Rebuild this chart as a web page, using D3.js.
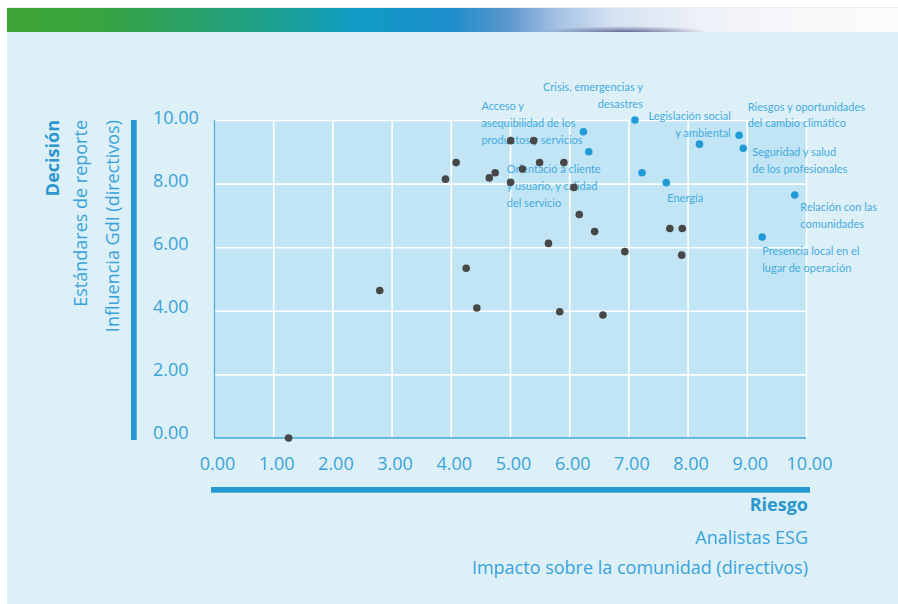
<!DOCTYPE html>
<html>
<head>
<meta charset="utf-8">
<script src="https://cdn.jsdelivr.net/npm/d3@7"></script>
<style>
  html, body { margin: 0; padding: 0; background: #ffffff; }
  svg { display: block; }
  text { font-family: "Open Sans", "Noto Sans", sans-serif; }
</style>
</head>
<body>
<svg id="chart" width="898" height="604"></svg>
<script>
// Materiality matrix: risk (x) vs decision (y)
const xTicks = [0, 1, 2, 3, 4, 5, 6, 7, 8, 9, 10];
const yTicks = [0, 2, 4, 6, 8, 10];

// Topics without a caption (grey dots)
const greyX = [1.26, 2.80, 3.91, 4.09, 4.26, 4.44, 4.65, 4.75, 5.01, 5.01, 5.21, 5.40,
               5.50, 5.65, 5.84, 5.91, 6.08, 6.17, 6.43, 6.57, 6.94, 7.70, 7.91, 7.90];
const greyY = [0.00, 4.64, 8.14, 8.66, 5.34, 4.09, 8.18, 8.34, 9.35, 8.04, 8.46, 9.35,
               8.66, 6.12, 3.97, 8.66, 7.88, 7.03, 6.49, 3.87, 5.86, 6.59, 6.59, 5.75];

// Material topics (blue dots)
const topicNames = [
  "Acceso y asequibilidad de los productos y servicios",
  "Orientació a cliente y usuario, y calidad del servicio",
  "Crisis, emergencias y desastres",
  "",
  "Energía",
  "Legislación social y ambiental",
  "Riesgos y oportunidades del cambio climático",
  "Seguridad y salud de los profesionales",
  "Relación con las comunidades",
  "Presencia local en el lugar de operación"
];
const topicX = [6.24, 6.33, 7.11, 7.23, 7.64, 8.20, 8.87, 8.94, 9.81, 9.26];
const topicY = [9.63, 9.00, 10.00, 8.34, 8.03, 9.24, 9.52, 9.11, 7.64, 6.32];

// Caption lines for each topic
const captionLines = [
  ["Acceso y", "asequibilidad de los", "productos y servicios"],
  ["Orientació a cliente", "y usuario, y calidad", "del servicio"],
  ["Crisis, emergencias y", "desastres"],
  [],
  ["Energía"],
  ["Legislación social", "y ambiental"],
  ["Riesgos y oportunidades", "del cambio climático"],
  ["Seguridad y salud", "de los profesionales"],
  ["Relación con las", "comunidades"],
  ["Presencia local en el", "lugar de operación"]
];

const yTitle = ["Decisión", "Estándares de reporte", "Influencia GdI (directivos)"];
const xTitle = ["Riesgo", "Analistas ESG", "Impacto sobre la comunidad (directivos)"];

// ---- layout ----
const W = 898, H = 604;
const plot = { left: 214, right: 806, top: 120, bottom: 438 };
// caption placement relative to its dot: [dx, dy, anchor]
const captionPlacement = [
  [-102, -21.5, "start"],
  [-82, 21.5, "start"],
  [8, -29.2, "end"],
  [0, 0, "start"],
  [1, 19.6, "start"],
  [31.3, -24.1, "end"],
  [8.7, -24.6, "start"],
  [9, 7.7, "start"],
  [5.6, 15.8, "start"],
  [0, 18.2, "start"]
];
const captionLineHeight = 16.8;

const C = {
  panel: "#ddf0f8",
  plotBg: "#c1e5f4",
  grid: "#ffffff",
  axisBar: "#2499d2",
  tick: "#38a3da",
  caption: "#45abdf",
  title: "#2a97d0",
  grey: "#474747",
  blue: "#1f9bd8"
};

const svg = d3.select("#chart");
const defs = svg.append("defs");

// banner gradient
const bg = defs.append("linearGradient").attr("id", "banner").attr("x1", 0).attr("x2", 1);
[[0, "#3ea535"], [0.1, "#38a43e"], [0.22, "#26a06c"], [0.33, "#18a09e"], [0.39, "#0f9bc5"],
 [0.5, "#1e8fcc"], [0.56, "#5a96cc"], [0.62, "#a6c3e4"], [0.68, "#d4e2f2"], [0.78, "#eef1f8"],
 [0.9, "#f9f9fb"], [1, "#fbfbfb"]]
  .forEach(([o, c]) => bg.append("stop").attr("offset", o).attr("stop-color", c));

const smudge = defs.append("radialGradient").attr("id", "smudge");
smudge.append("stop").attr("offset", 0).attr("stop-color", "#3b3c72").attr("stop-opacity", 0.75);
smudge.append("stop").attr("offset", 1).attr("stop-color", "#3b3c72").attr("stop-opacity", 0);

svg.append("rect").attr("width", W).attr("height", H).attr("fill", "#ffffff");
svg.append("line").attr("x1", 7).attr("x2", W).attr("y1", 7.5).attr("y2", 7.5)
  .attr("stroke", "#ececec").attr("stroke-width", 1);
svg.append("rect").attr("x", 7).attr("y", 8).attr("width", W - 7).attr("height", 24).attr("fill", "url(#banner)");
svg.append("ellipse").attr("cx", 625).attr("cy", 32).attr("rx", 85).attr("ry", 6).attr("fill", "url(#smudge)");
svg.append("rect").attr("x", 7).attr("y", 32).attr("width", W - 7).attr("height", H - 32).attr("fill", C.panel);
svg.append("line").attr("x1", 874.5).attr("x2", 874.5).attr("y1", 32).attr("y2", H)
  .attr("stroke", "#d6ebf5").attr("stroke-width", 1);

// scales
const x = d3.scaleLinear().domain([0, 10]).range([plot.left, plot.right]);
const y = d3.scaleLinear().domain([0, 10]).range([plot.bottom, plot.top]);
// tick labels on the value axis sit on a slightly tighter scale
const yLabelScale = d3.scaleLinear().domain([0, 10]).range([431.7, 117.3]);

// plot background and grid
svg.append("rect").attr("x", plot.left).attr("y", plot.top)
  .attr("width", plot.right - plot.left).attr("height", plot.bottom - plot.top)
  .attr("fill", C.plotBg);

const gridX = svg.append("g").attr("transform", `translate(0,${plot.bottom})`)
  .call(d3.axisBottom(x).tickValues(xTicks.slice(1)).tickSize(-(plot.bottom - plot.top)).tickFormat(""));
const gridY = svg.append("g").attr("transform", `translate(${plot.left},0)`)
  .call(d3.axisLeft(y).tickValues(yTicks.slice(1)).tickSize(-(plot.right - plot.left)).tickFormat(""));
[gridX, gridY].forEach(g => {
  g.select(".domain").remove();
  g.selectAll(".tick line").attr("stroke", C.grid).attr("stroke-width", 1.6);
});

// thin plot axis lines
svg.append("line").attr("x1", plot.left + 0.5).attr("x2", plot.left + 0.5)
  .attr("y1", plot.top).attr("y2", plot.bottom).attr("stroke", "#4fb0e0").attr("stroke-width", 1.2);
svg.append("line").attr("x1", plot.left).attr("x2", plot.right)
  .attr("y1", plot.bottom).attr("y2", plot.bottom).attr("stroke", "#3fa8de").attr("stroke-width", 1.4);

// y tick labels
const yLab = svg.append("g").attr("transform", "translate(153,0)")
  .call(d3.axisLeft(yLabelScale).tickValues(yTicks).tickSize(0).tickPadding(0).tickFormat(d => d.toFixed(2)));
yLab.select(".domain").remove();
yLab.selectAll("text").attr("x", 0).attr("text-anchor", "start").attr("dy", "0.36em")
  .style("font-family", '"Open Sans", sans-serif').style("font-size", "18px").style("font-weight", 400)
  .attr("fill", C.tick);

// x tick labels
const xLab = svg.append("g").attr("transform", "translate(3,464)")
  .call(d3.axisBottom(x).tickValues(xTicks).tickSize(0).tickPadding(0).tickFormat(d => d.toFixed(2)));
xLab.select(".domain").remove();
xLab.selectAll("text").attr("y", 0).attr("dy", "0.36em")
  .style("font-family", '"Open Sans", sans-serif').style("font-size", "18px").style("font-weight", 400)
  .attr("fill", C.tick);

// thick axis bars
svg.append("rect").attr("x", 131).attr("y", plot.top).attr("width", 5.7).attr("height", 320).attr("fill", C.axisBar);
svg.append("rect").attr("x", 211).attr("y", 487).attr("width", 599).attr("height", 5.7).attr("fill", C.axisBar);

// y titles (rotated)
const yTitleX = [59, 87, 119];
yTitle.forEach((t, i) => {
  svg.append("text").attr("transform", `translate(${yTitleX[i]},${plot.top}) rotate(-90)`)
    .attr("text-anchor", "end")
    .style("font-size", "18px").style("font-weight", i === 0 ? 700 : 400)
    .attr("fill", i === 0 ? C.title : C.tick).text(t);
});

// x titles
const xTitleY = [511, 544, 574];
xTitle.forEach((t, i) => {
  svg.append("text").attr("x", 808).attr("y", xTitleY[i]).attr("text-anchor", "end")
    .style("font-size", "18px").style("font-weight", i === 0 ? 700 : 400)
    .attr("fill", i === 0 ? C.title : C.tick).text(t);
});

// captions
const topics = topicNames.map((n, i) => ({ name: n, x: topicX[i], y: topicY[i], lines: captionLines[i], place: captionPlacement[i] }));
const capG = svg.append("g");
topics.forEach(d => {
  if (!d.lines.length) return;
  const [dx, dy, anchor] = d.place;
  const t = capG.append("text")
    .attr("x", x(d.x) + dx).attr("y", y(d.y) + dy)
    .attr("text-anchor", anchor)
    .style("font-family", 'Lato, "Open Sans", sans-serif').style("font-size", "11px")
    .attr("fill", C.caption);
  d.lines.forEach((l, j) => t.append("tspan").attr("x", x(d.x) + dx).attr("dy", j ? captionLineHeight : 0).text(l));
});

// dots
const greys = greyX.map((v, i) => ({ x: v, y: greyY[i] }));
svg.append("g").selectAll("circle").data(greys).join("circle")
  .attr("cx", d => x(d.x)).attr("cy", d => y(d.y)).attr("r", 3.8).attr("fill", C.grey);
svg.append("g").selectAll("circle").data(topics).join("circle")
  .attr("cx", d => x(d.x)).attr("cy", d => y(d.y)).attr("r", 3.8).attr("fill", C.blue);
</script>
</body>
</html>
